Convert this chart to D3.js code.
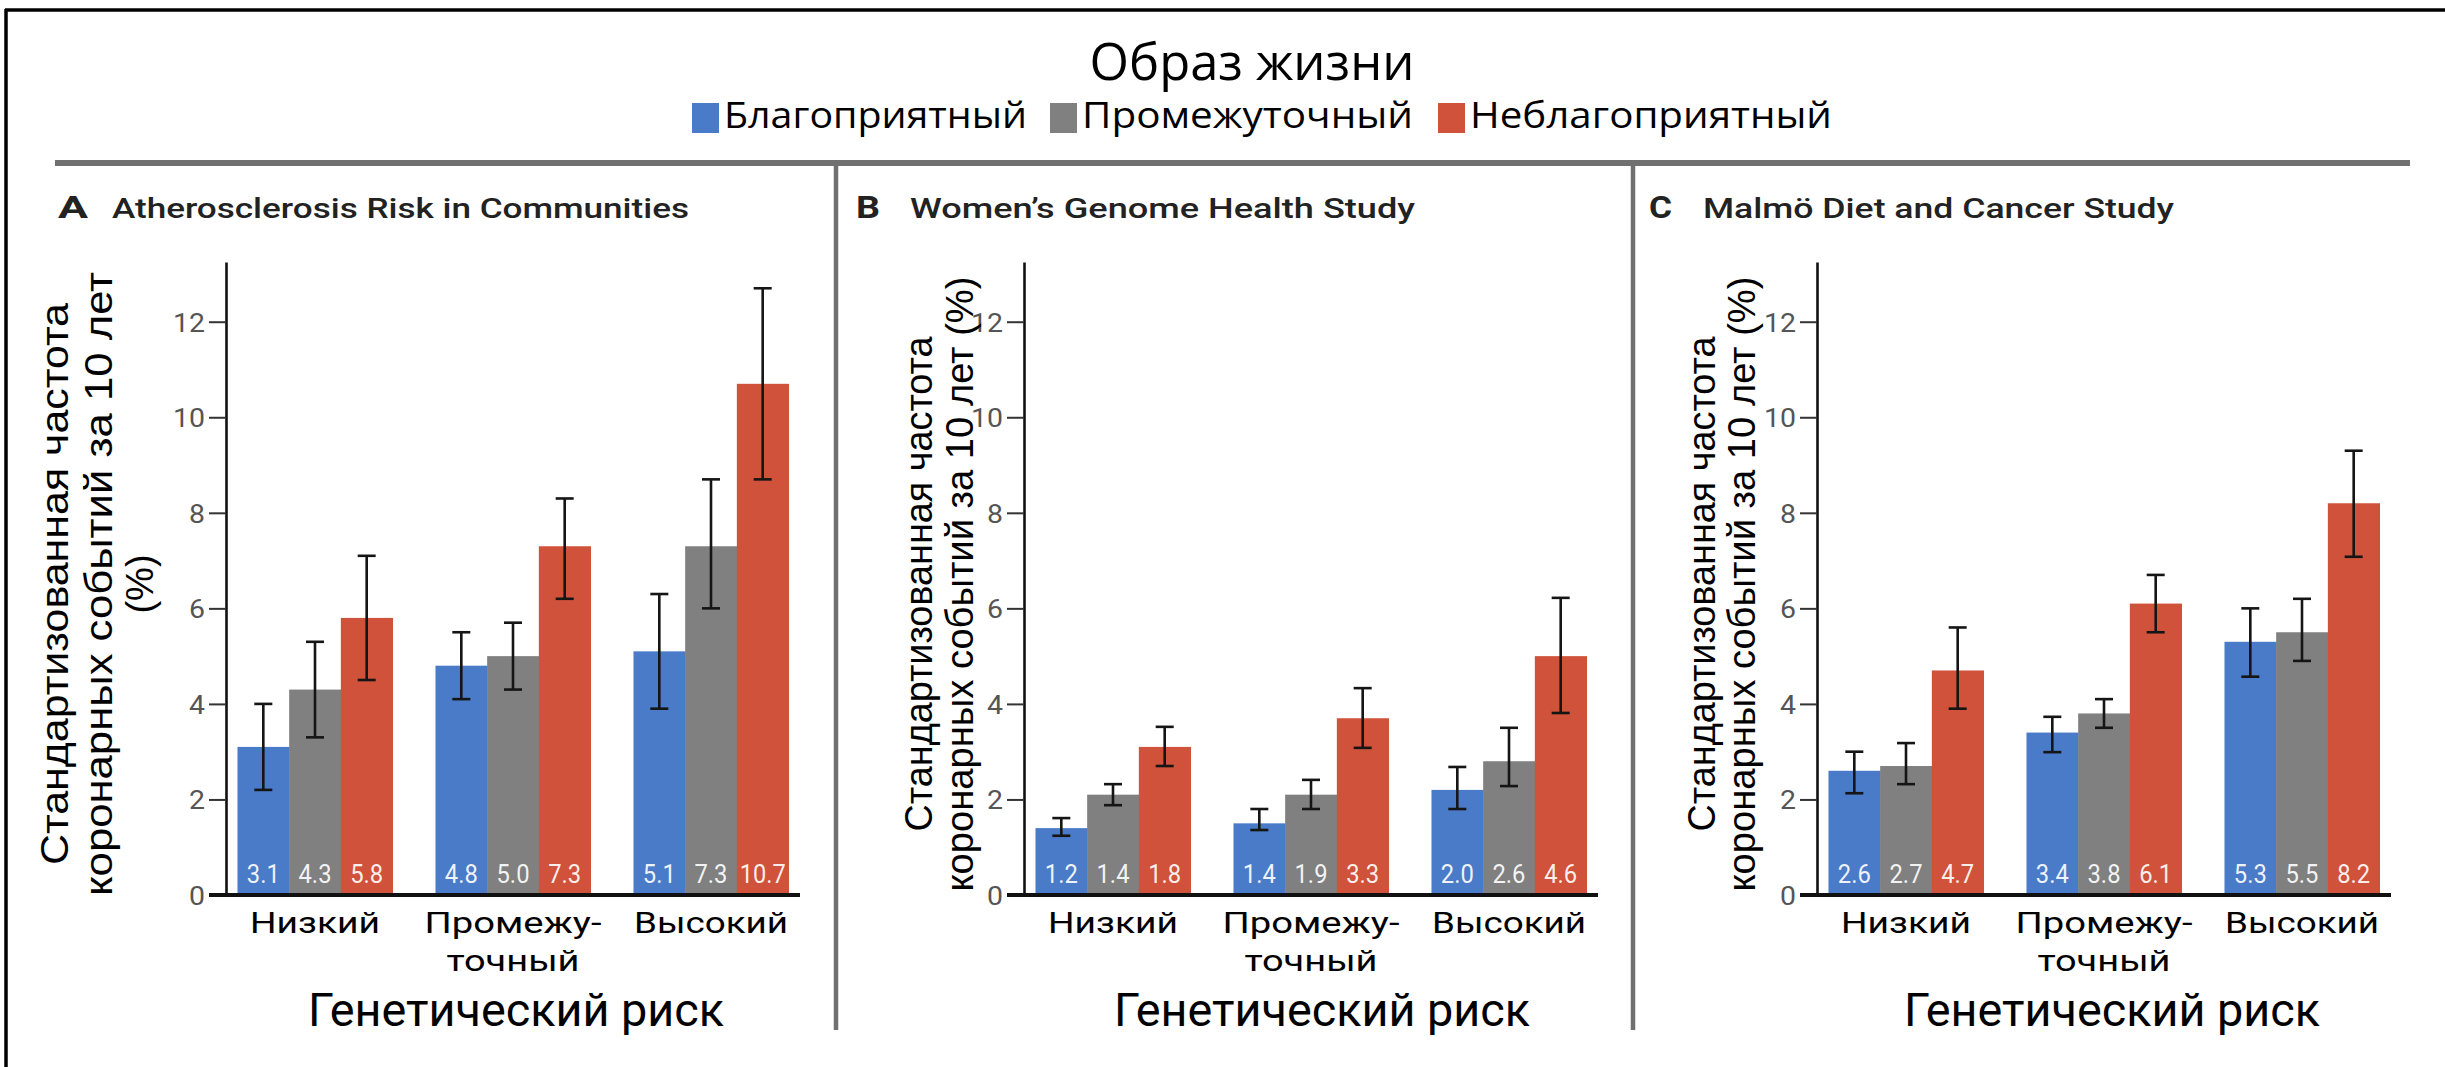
<!DOCTYPE html>
<head>
  <meta charset="utf-8">
  <script src="https://d3js.org/d3.v7.min.js"></script>
  <style>
body { margin: 0; background: #fff; }
svg { display: block; }
/* condensed-looking labels are squeezed to the measured widths with textLength */
.cond { font-family: Roboto, "Liberation Sans", sans-serif; }
.tick text { font-family: Roboto, "Liberation Sans", sans-serif; fill: #555; font-size: 26px; }
  </style>
</head>

<body>
  <script>
    // categories
    var riskGroups = ["Низкий", "Промежуточный", "Высокий"];
    var riskLabelLines = [["Низкий"], ["Промежу-", "точный"], ["Высокий"]];
    var lifestyles = ["Благоприятный", "Промежуточный", "Неблагоприятный"];
    var studyLetters = ["A", "B", "C"];
    var studyNames = ["Atherosclerosis Risk in Communities", "Women’s Genome Health Study", "Malmö Diet and Cancer Study"];
    var yTicks = [0, 2, 4, 6, 8, 10, 12];
    var headerTitle = "Образ жизни";
    var xTitle = "Генетический риск";

    // rows = genetic risk group, columns = lifestyle
    var aricRates = [[3.1, 4.3, 5.8], [4.8, 5.0, 7.3], [5.1, 7.3, 10.7]];
    var aricLow = [[2.2, 3.3, 4.5], [4.1, 4.3, 6.2], [3.9, 6.0, 8.7]];
    var aricHigh = [[4.0, 5.3, 7.1], [5.5, 5.7, 8.3], [6.3, 8.7, 12.7]];
    var aricLabels = [["3.1", "4.3", "5.8"], ["4.8", "5.0", "7.3"], ["5.1", "7.3", "10.7"]];

    var wghsRates = [[1.4, 2.1, 3.1], [1.5, 2.1, 3.7], [2.2, 2.8, 5.0]];
    var wghsLow = [[1.24, 1.88, 2.7], [1.36, 1.8, 3.08], [1.8, 2.28, 3.81]];
    var wghsHigh = [[1.61, 2.32, 3.52], [1.8, 2.41, 4.33], [2.68, 3.5, 6.22]];
    var wghsLabels = [["1.2", "1.4", "1.8"], ["1.4", "1.9", "3.3"], ["2.0", "2.6", "4.6"]];

    var mdcsRates = [[2.6, 2.7, 4.7], [3.4, 3.8, 6.1], [5.3, 5.5, 8.2]];
    var mdcsLow = [[2.13, 2.32, 3.9], [2.99, 3.5, 5.5], [4.57, 4.9, 7.08]];
    var mdcsHigh = [[3.0, 3.18, 5.6], [3.73, 4.1, 6.7], [6.0, 6.2, 9.3]];
    var mdcsLabels = [["2.6", "2.7", "4.7"], ["3.4", "3.8", "6.1"], ["5.3", "5.5", "8.2"]];

    var yTitles = [
      ["Стандартизованная частота", "коронарных событий за 10 лет", "(%)"],
      ["Стандартизованная частота", "коронарных событий за 10 лет (%)"],
      ["Стандартизованная частота", "коронарных событий за 10 лет (%)"]
    ];

    var colors = ["#4a7bc8", "#808080", "#d1523a"];

    var panels = [
      { rates: aricRates, low: aricLow, high: aricHigh, labels: aricLabels },
      { rates: wghsRates, low: wghsLow, high: wghsHigh, labels: wghsLabels },
      { rates: mdcsRates, low: mdcsLow, high: mdcsHigh, labels: mdcsLabels }
    ];

    var W = 2445, H = 1067;
    var axisXs = [226, 1024, 1817];
    var plotW = 574;
    var yTitleBase = [[68, 112, 153], [932, 973], [1715, 1755]];
    var yTitleLen = [[562, 624, null], [495, 615], [495, 615]];
    var titleLen = [577, 505, 471];
    var letterLen = [30, 24, 23];
    var xTitleShift = [290, 298, 295];
    var lineWidths = { "Низкий": 130, "Промежу-": 177, "точный": 133, "Высокий": 154 };

    var svg = d3.select("body").append("svg")
      .attr("width", W)
      .attr("height", H);

    svg.append("rect").attr("width", W).attr("height", H).attr("fill", "#fff");

    // outer frame: only top and left edges show
    svg.append("line").attr("x1", 5).attr("x2", W).attr("y1", 10).attr("y2", 10)
      .attr("stroke", "#000").attr("stroke-width", 3.5);
    svg.append("line").attr("x1", 6).attr("x2", 6).attr("y1", 9).attr("y2", H)
      .attr("stroke", "#000").attr("stroke-width", 3.5);

    // header + legend
    svg.append("text")
      .attr("x", 1252).attr("y", 80)
      .attr("text-anchor", "middle")
      .style("font-family", "'Open Sans', 'Noto Sans', sans-serif")
      .style("font-size", "52px")
      .attr("textLength", 325).attr("lengthAdjust", "spacingAndGlyphs")
      .text(headerTitle);

    var legendX = [692, 1050, 1438];
    var legendLen = [303, 331, 362];
    var legend = svg.append("g").selectAll("g")
      .data(lifestyles)
      .enter().append("g");
    legend.append("rect")
      .attr("x", (d, i) => legendX[i]).attr("y", 103)
      .attr("width", 27).attr("height", 30)
      .attr("fill", (d, i) => colors[i]);
    legend.append("text")
      .attr("x", (d, i) => legendX[i] + 32).attr("y", 128)
      .style("font-family", "'Open Sans', 'Noto Sans', sans-serif")
      .style("font-size", "36px")
      .attr("textLength", (d, i) => legendLen[i]).attr("lengthAdjust", "spacingAndGlyphs")
      .text(d => d);

    // separators
    svg.append("line").attr("x1", 55).attr("x2", 2410).attr("y1", 163).attr("y2", 163)
      .attr("stroke", "#707070").attr("stroke-width", 6);
    [836, 1633].forEach(function(sx) {
      svg.append("line").attr("x1", sx).attr("x2", sx).attr("y1", 163).attr("y2", 1030)
        .attr("stroke", "#707070").attr("stroke-width", 4.5);
    });

    var y = d3.scaleLinear().domain([0, 13.25]).range([895, 262]);

    panels.forEach(function(p, pi) {
      var ax = axisXs[pi];
      var g = svg.append("g");

      var x = d3.scaleBand().domain(riskGroups)
        .range([ax, ax + plotW])
        .paddingInner(0.217).paddingOuter(0.058);
      var xs = d3.scaleBand().domain(lifestyles).range([0, x.bandwidth()]);

      var rows = [];
      riskGroups.forEach(function(rg, gi) {
        lifestyles.forEach(function(ls, si) {
          rows.push({ group: rg, style: ls, si: si, v: p.rates[gi][si],
            lo: p.low[gi][si], hi: p.high[gi][si], label: p.labels[gi][si] });
        });
      });
      var cx = d => x(d.group) + xs(d.style) + xs.bandwidth() / 2;

      // panel title
      g.append("text")
        .attr("x", ax - 168).attr("y", 218)
        .attr("class", "cond")
        .style("font-size", "32px").style("font-weight", 700).style("fill", "#222")
        .attr("textLength", letterLen[pi]).attr("lengthAdjust", "spacingAndGlyphs")
        .text(studyLetters[pi]);
      g.append("text")
        .attr("x", ax - 114).attr("y", 218)
        .attr("class", "cond")
        .style("font-size", "28px").style("font-weight", 500).style("fill", "#222")
        .attr("textLength", titleLen[pi]).attr("lengthAdjust", "spacingAndGlyphs")
        .text(studyNames[pi]);

      // bars
      g.selectAll(".bar")
        .data(rows)
        .enter().append("rect")
        .attr("class", "bar")
        .attr("x", d => x(d.group) + xs(d.style))
        .attr("y", d => y(d.v))
        .attr("width", xs.bandwidth() + 0.5)
        .attr("height", d => y(0) - y(d.v))
        .attr("fill", d => colors[d.si]);

      // value labels inside bars
      g.selectAll(".val")
        .data(rows)
        .enter().append("text")
        .attr("class", "val cond")
        .attr("x", cx)
        .attr("y", 883)
        .attr("text-anchor", "middle")
        .style("font-size", "25px")
        .style("fill", "#fff").style("fill-opacity", 0.92)
        .attr("textLength", d => d.label.replace(".", "").length * 13 + 7)
        .attr("lengthAdjust", "spacingAndGlyphs")
        .text(d => d.label);

      // error bars
      var eb = g.selectAll(".err")
        .data(rows)
        .enter().append("g")
        .attr("class", "err")
        .attr("stroke", "#151515")
        .attr("stroke-width", 2.6);
      eb.append("line")
        .attr("x1", cx).attr("x2", cx)
        .attr("y1", d => y(d.lo)).attr("y2", d => y(d.hi));
      eb.append("line")
        .attr("x1", d => cx(d) - 9).attr("x2", d => cx(d) + 9)
        .attr("y1", d => y(d.hi)).attr("y2", d => y(d.hi));
      eb.append("line")
        .attr("x1", d => cx(d) - 9).attr("x2", d => cx(d) + 9)
        .attr("y1", d => y(d.lo)).attr("y2", d => y(d.lo));

      // y axis
      var yAxis = g.append("g")
        .attr("transform", "translate(" + ax + ",0)")
        .call(d3.axisLeft(y).tickValues(yTicks).tickSize(17).tickSizeOuter(0).tickPadding(4));
      yAxis.select(".domain").attr("stroke", "#111").attr("stroke-width", 2.6);
      yAxis.selectAll(".tick line").attr("stroke", "#333").attr("stroke-width", 2);
      yAxis.selectAll(".tick text")
        .attr("dy", "0.36em")
        .attr("textLength", d => String(d).length * 16)
        .attr("lengthAdjust", "spacingAndGlyphs");

      // x baseline
      g.append("line")
        .attr("x1", ax - 17).attr("x2", ax + plotW)
        .attr("y1", y(0)).attr("y2", y(0))
        .attr("stroke", "#111").attr("stroke-width", 4);

      // x category labels
      riskGroups.forEach(function(rg, gi) {
        riskLabelLines[gi].forEach(function(line, li) {
          g.append("text")
            .attr("class", "cond")
            .attr("x", x(rg) + x.bandwidth() / 2)
            .attr("y", 933 + li * 38)
            .attr("text-anchor", "middle")
            .style("font-size", "30px").style("fill", "#000")
            .attr("textLength", lineWidths[line]).attr("lengthAdjust", "spacingAndGlyphs")
            .text(line);
        });
      });

      // x title
      g.append("text")
        .attr("class", "cond")
        .attr("x", ax + xTitleShift[pi]).attr("y", 1026)
        .attr("text-anchor", "middle")
        .style("font-size", "46px").style("fill", "#000")
        .attr("textLength", 416).attr("lengthAdjust", "spacingAndGlyphs")
        .text(xTitle);

      // y title (rotated)
      yTitles[pi].forEach(function(line, li) {
        var t = g.append("text")
          .attr("transform", "translate(" + yTitleBase[pi][li] + ",584) rotate(-90)")
          .attr("text-anchor", "middle")
          .style("font-family", "'Liberation Sans', Arial, sans-serif")
          .style("font-size", "38px").style("fill", "#000")
          .text(line);
        if (yTitleLen[pi][li]) {
          t.attr("textLength", yTitleLen[pi][li]).attr("lengthAdjust", "spacingAndGlyphs");
        }
      });
    });
  </script>
</body>
